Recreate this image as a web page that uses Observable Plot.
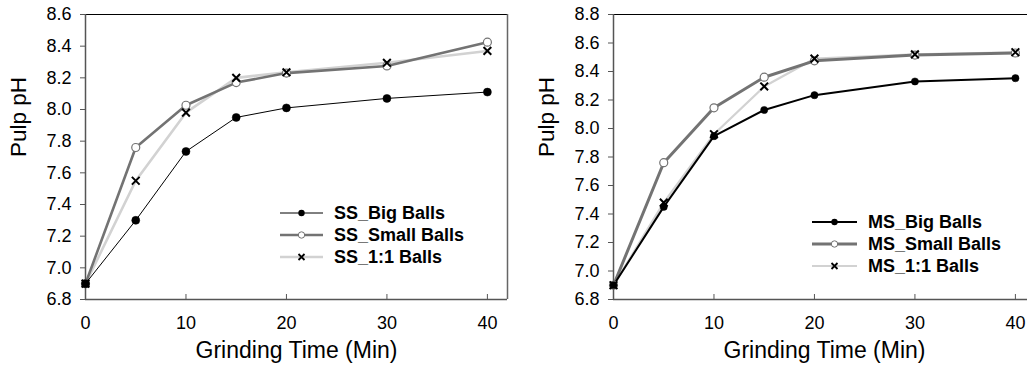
<!DOCTYPE html>
<html>
<head>
<meta charset="utf-8">
<script src="https://cdn.jsdelivr.net/npm/d3@7"></script>
<script src="https://cdn.jsdelivr.net/npm/@observablehq/plot@0.6"></script>
<style>
html, body { margin: 0; padding: 0; background: #fff; overflow: hidden; }
#wrap { position: relative; width: 1027px; height: 373px; overflow: hidden; font-family: "Liberation Sans", Arial, sans-serif; }
.panel { position: absolute; top: 0; }
</style>
</head>
<body>
<div id="wrap"></div>
<script>
const time = [0, 5, 10, 15, 20, 30, 40];
const ssBig   = [6.90, 7.30, 7.735, 7.95, 8.01, 8.07, 8.11];
const ssSmall = [6.90, 7.76, 8.027, 8.17, 8.23, 8.275, 8.425];
const ss11    = [6.90, 7.55, 7.98, 8.20, 8.235, 8.295, 8.37];
const msBig   = [6.90, 7.45, 7.946, 8.13, 8.234, 8.33, 8.353];
const msSmall = [6.90, 7.76, 8.145, 8.36, 8.475, 8.515, 8.53];
const ms11    = [6.90, 7.48, 7.96, 8.295, 8.49, 8.52, 8.535];
const xTicks = [0, 10, 20, 30, 40];
const ssYTicks = [6.8, 7.0, 7.2, 7.4, 7.6, 7.8, 8.0, 8.2, 8.4, 8.6];
const msYTicks = [6.8, 7.0, 7.2, 7.4, 7.6, 7.8, 8.0, 8.2, 8.4, 8.6, 8.8];
const ssNames = ["SS_Big Balls", "SS_Small Balls", "SS_1:1 Balls"];
const msNames = ["MS_Big Balls", "MS_Small Balls", "MS_1:1 Balls"];

const toRows = (vals) => time.map((t, i) => ({t, v: vals[i]}));

function panel({big, small, one, names, yTicks, left, width, marginLeft, marginRight, bigW, smallW, oneW, bigR, legend}) {
  const ymin = yTicks[0], ymax = yTicks[yTicks.length - 1];
  const font = "Liberation Sans, Arial, sans-serif";
  const p = Plot.plot({
    width, height: 373,
    marginLeft, marginRight, marginTop: 14, marginBottom: 74,
    style: {fontFamily: font, background: "#fff", color: "#000"},
    x: {domain: [0, 42]},
    y: {domain: [ymin, ymax]},
    marks: [
      Plot.ruleY([ymax], {stroke: "#000", strokeWidth: 1.2}),
      Plot.ruleX([42], {stroke: "#666", strokeWidth: 1.5}),
      Plot.ruleX([0], {stroke: "#555", strokeWidth: 1.5}),
      Plot.ruleY([ymin], {stroke: "#555", strokeWidth: 1.5}),
      Plot.axisY({ticks: yTicks, tickFormat: d3.format(".1f"), tickSize: 5, tickPadding: 9, fontSize: 18, label: null, stroke: "#555"}),
      Plot.axisX({ticks: xTicks, tickSize: -5, tickPadding: 22, fontSize: 18, label: null, stroke: "#555"}),
      Plot.text(["Pulp pH"], {frameAnchor: "left", rotate: -90, dx: -67, fontSize: 22.5}),
      Plot.text(["Grinding Time (Min)"], {frameAnchor: "bottom", dy: 58, fontSize: 23}),
      Plot.line(toRows(one), {x: "t", y: "v", stroke: "#d2d2d2", strokeWidth: oneW}),
      Plot.line(toRows(small), {x: "t", y: "v", stroke: "#737373", strokeWidth: smallW}),
      Plot.line(toRows(big), {x: "t", y: "v", stroke: "#000", strokeWidth: bigW}),
      Plot.dot(toRows(small), {x: "t", y: "v", r: 4, fill: "#fff", stroke: "#737373", strokeWidth: 1.2}),
      Plot.dot(toRows(big), {x: "t", y: "v", r: bigR, fill: "#000", stroke: "#000", strokeWidth: 0.5}),
      Plot.dot(toRows(one), {x: "t", y: "v", r: 3.6, symbol: "times", stroke: "#000", strokeWidth: 2})
    ]
  });
  p.classList.add("panel");
  p.style.left = left + "px";
  // legend
  const svg = d3.select(p);
  const g = svg.append("g")
    .style("font-family", font).style("font-size", "18px").style("font-weight", "bold")
    .attr("text-anchor", "start").style("text-anchor", "start");
  const specs = [
    {stroke: "#000", w: bigW, marker: "dot"},
    {stroke: "#737373", w: smallW, marker: "open"},
    {stroke: "#d2d2d2", w: oneW, marker: "times"}
  ];
  specs.forEach((s, i) => {
    const y = legend.y + i * legend.dy;
    const x0 = legend.x, x1 = legend.x + legend.len, xm = (x0 + x1) / 2;
    g.append("line").attr("x1", x0).attr("x2", x1).attr("y1", y).attr("y2", y).attr("stroke", s.stroke).attr("stroke-width", s.w);
    if (s.marker === "dot") g.append("circle").attr("cx", xm).attr("cy", y).attr("r", 3.2).attr("fill", "#000");
    else if (s.marker === "open") g.append("circle").attr("cx", xm).attr("cy", y).attr("r", 3.2).attr("fill", "#fff").attr("stroke", "#737373").attr("stroke-width", 1);
    else g.append("path").attr("d", `M${xm-3},${y-3}L${xm+3},${y+3}M${xm-3},${y+3}L${xm+3},${y-3}`).attr("stroke", "#000").attr("stroke-width", 1.8);
    g.append("text").attr("x", x1 + 11).attr("y", y).attr("dy", "0.35em").style("text-anchor", "start").text(names[i]);
  });
  return p;
}

const wrap = document.getElementById("wrap");
wrap.appendChild(panel({big: ssBig, small: ssSmall, one: ss11, names: ssNames, yTicks: ssYTicks,
  left: 0, width: 513, marginLeft: 85, marginRight: 6, bigW: 1, smallW: 2.6, oneW: 2.6, bigR: 4,
  legend: {x: 280, y: 213, dy: 22, len: 43}}));
wrap.appendChild(panel({big: msBig, small: msSmall, one: ms11, names: msNames, yTicks: msYTicks,
  left: 513, width: 522, marginLeft: 100, marginRight: 0, bigW: 2, smallW: 3, oneW: 2.2, bigR: 3.6,
  legend: {x: 812 - 513, y: 222, dy: 22, len: 45}}));
</script>
</body>
</html>
